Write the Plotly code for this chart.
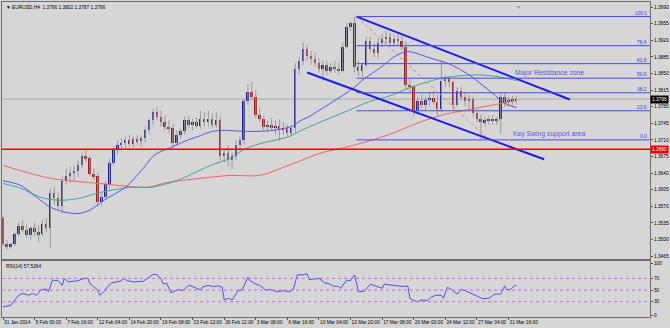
import plotly.graph_objects as go

# ---------------- data ----------------
candle_bar = list(range(0, 262, 2))  # H4 bar index of each (8h) candle

open_ = [1.3545,1.3490,1.3486,1.3490,1.3511,1.3528,1.3520,1.3509,1.3524,1.3515,
         1.3511,1.3532,1.3524,1.3597,1.3587,1.3570,1.3624,1.3633,1.3641,1.3645,
         1.3656,1.3675,1.3671,1.3637,1.3633,1.3578,1.3589,1.3616,1.3662,1.3688,
         1.3700,1.3704,1.3709,1.3702,1.3711,1.3707,1.3713,1.3730,1.3751,1.3768,
         1.3759,1.3747,1.3738,1.3734,1.3704,1.3721,1.3728,1.3751,1.3742,1.3747,
         1.3740,1.3755,1.3747,1.3753,1.3742,1.3751,1.3675,1.3683,1.3667,1.3675,
         1.3700,1.3709,1.3793,1.3810,1.3801,1.3763,1.3755,1.3738,1.3742,1.3734,
         1.3740,1.3730,1.3736,1.3725,1.3734,1.3860,1.3877,1.3902,1.3887,1.3881,
         1.3872,1.3860,1.3868,1.3856,1.3864,1.3860,1.3856,1.3906,1.3948,1.3957,
         1.3864,1.3856,1.3868,1.3919,1.3902,1.3894,1.3915,1.3923,1.3927,1.3915,
         1.3923,1.3919,1.3906,1.3826,1.3822,1.3772,1.3793,1.3784,1.3795,1.3799,
         1.3789,1.3776,1.3835,1.3839,1.3831,1.3784,1.3814,1.3801,1.3793,1.3797,
         1.3766,1.3755,1.3747,1.3751,1.3755,1.3751,1.3755,1.3801,1.3789,1.3795,
         1.3793]
high = [1.3549,1.3499,1.3494,1.3515,1.3536,1.3541,1.3532,1.3528,1.3536,1.3530,
        1.3541,1.3545,1.3608,1.3612,1.3599,1.3633,1.3650,1.3654,1.3656,1.3667,
        1.3683,1.3688,1.3677,1.3650,1.3641,1.3599,1.3624,1.3671,1.3696,1.3709,
        1.3713,1.3717,1.3721,1.3717,1.3721,1.3719,1.3738,1.3755,1.3776,1.3780,
        1.3772,1.3761,1.3751,1.3742,1.3730,1.3734,1.3759,1.3761,1.3755,1.3757,
        1.3772,1.3768,1.3772,1.3766,1.3768,1.3759,1.3692,1.3698,1.3683,1.3709,
        1.3717,1.3797,1.3828,1.3831,1.3814,1.3776,1.3761,1.3751,1.3755,1.3751,
        1.3753,1.3747,1.3742,1.3740,1.3872,1.3885,1.3915,1.3910,1.3898,1.3894,
        1.3881,1.3877,1.3877,1.3872,1.3877,1.3872,1.3915,1.3957,1.3961,1.3970,
        1.3877,1.3872,1.3927,1.3927,1.3915,1.3923,1.3934,1.3940,1.3936,1.3931,
        1.3936,1.3931,1.3919,1.3839,1.3826,1.3801,1.3805,1.3801,1.3810,1.3814,
        1.3805,1.3877,1.3847,1.3845,1.3835,1.3822,1.3822,1.3810,1.3805,1.3801,
        1.3772,1.3763,1.3759,1.3761,1.3763,1.3759,1.3810,1.3810,1.3801,1.3803,
        1.3802]
low = [1.3486,1.3478,1.3480,1.3486,1.3507,1.3515,1.3503,1.3499,1.3507,1.3494,
       1.3507,1.3515,1.3482,1.3572,1.3562,1.3555,1.3616,1.3620,1.3624,1.3633,
       1.3650,1.3662,1.3633,1.3624,1.3568,1.3570,1.3583,1.3608,1.3656,1.3679,
       1.3688,1.3692,1.3696,1.3694,1.3700,1.3696,1.3704,1.3723,1.3742,1.3751,
       1.3738,1.3730,1.3725,1.3692,1.3698,1.3713,1.3721,1.3734,1.3730,1.3734,
       1.3734,1.3738,1.3738,1.3734,1.3736,1.3667,1.3662,1.3654,1.3648,1.3667,
       1.3688,1.3700,1.3784,1.3793,1.3755,1.3747,1.3730,1.3725,1.3730,1.3721,
       1.3709,1.3721,1.3717,1.3719,1.3725,1.3847,1.3868,1.3877,1.3868,1.3864,
       1.3852,1.3835,1.3847,1.3852,1.3852,1.3847,1.3852,1.3902,1.3940,1.3852,
       1.3845,1.3843,1.3864,1.3894,1.3883,1.3881,1.3906,1.3910,1.3906,1.3906,
       1.3910,1.3898,1.3814,1.3810,1.3759,1.3763,1.3776,1.3772,1.3780,1.3784,
       1.3761,1.3768,1.3822,1.3822,1.3772,1.3780,1.3793,1.3780,1.3776,1.3759,
       1.3747,1.3710,1.3738,1.3742,1.3742,1.3742,1.3723,1.3780,1.3780,1.3784,
       1.3787]
close = [1.3490,1.3486,1.3490,1.3511,1.3528,1.3520,1.3509,1.3524,1.3515,1.3511,
         1.3532,1.3524,1.3597,1.3587,1.3570,1.3624,1.3633,1.3641,1.3645,1.3656,
         1.3675,1.3671,1.3637,1.3633,1.3578,1.3589,1.3616,1.3662,1.3688,1.3700,
         1.3704,1.3709,1.3702,1.3711,1.3707,1.3713,1.3730,1.3751,1.3768,1.3759,
         1.3747,1.3738,1.3734,1.3704,1.3721,1.3728,1.3751,1.3742,1.3747,1.3740,
         1.3755,1.3747,1.3753,1.3742,1.3751,1.3675,1.3683,1.3667,1.3675,1.3700,
         1.3709,1.3793,1.3810,1.3801,1.3763,1.3755,1.3738,1.3742,1.3734,1.3740,
         1.3730,1.3736,1.3725,1.3734,1.3860,1.3877,1.3902,1.3887,1.3881,1.3872,
         1.3860,1.3868,1.3856,1.3864,1.3860,1.3856,1.3906,1.3948,1.3957,1.3864,
         1.3856,1.3868,1.3919,1.3902,1.3894,1.3915,1.3923,1.3927,1.3915,1.3923,
         1.3919,1.3906,1.3826,1.3822,1.3772,1.3793,1.3784,1.3795,1.3799,1.3789,
         1.3776,1.3835,1.3839,1.3831,1.3784,1.3814,1.3801,1.3793,1.3797,1.3766,
         1.3755,1.3747,1.3751,1.3755,1.3751,1.3755,1.3801,1.3789,1.3795,1.3793,
         1.3796]

ma_blue_bar = [0,9,17,24,32,39,44,52,62,70,77,85,92,100,106,112,122,130,140,147,
               150,155,160,168,177,183,191,198,204,208,216,226,236,242,248,254,260]
ma_blue = [1.3624,1.3614,1.3589,1.3568,1.3557,1.3555,1.3562,1.3585,1.3610,1.3645,
           1.3679,1.3694,1.3707,1.3719,1.3728,1.3730,1.3728,1.3728,1.3732,1.3740,
           1.3749,1.3759,1.3772,1.3793,1.3818,1.3839,1.3862,1.3885,1.3896,1.3894,
           1.3883,1.3870,1.3847,1.3828,1.3808,1.3787,1.3778]
ma_teal_bar = [0,9,19,27,32,39,49,65,75,85,92,105,115,122,130,145,150,165,175,185,
               196,206,221,231,241,251,260]
ma_teal = [1.3618,1.3608,1.3589,1.3583,1.3583,1.3587,1.3599,1.3610,1.3610,1.3620,
           1.3631,1.3656,1.3671,1.3690,1.3702,1.3717,1.3728,1.3755,1.3772,1.3790,
           1.3803,1.3820,1.3839,1.3845,1.3847,1.3843,1.3835]
ma_red_bar = [0,24,49,73,83,100,115,130,147,160,177,194,211,223,241,260]
ma_red = [1.3656,1.3629,1.3618,1.3610,1.3620,1.3629,1.3635,1.3635,1.3660,1.3681,
          1.3698,1.3719,1.3747,1.3763,1.3778,1.3793]

rsi_bar = [0,4,6,8,10,13,15,17,19,22,
           23,25,28,30,31,33,38,41,43,44,
           48,49,51,53,55,60,61,63,66,71,
           74,76,78,80,81,83,85,86,89,91,
           94,96,100,101,104,106,109,111,112,114,
           116,119,121,124,125,128,130,133,135,139,
           142,145,147,149,152,154,155,160,163,165,
           167,170,171,174,176,178,180,183,186,189,
           192,193,197,201,203,205,206,208,210,212,
           215,217,219,222,223,225,227,230,232,234,
           237,241,243,246,249,252,254,255,257,259,
           260]
rsi_val = [21,24,33,41,44,41,44,41,50,52,
           47,67,66,58,70,64,66,70,70,61,
           50,41,47,56,62,66,70,66,64,65,
           72,77,76,70,61,61,45,47,51,49,
           58,56,50,55,58,56,57,55,33,36,
           33,49,50,72,66,60,58,50,51,47,
           49,47,51,76,76,78,68,70,62,61,
           57,56,53,67,66,76,47,48,60,57,
           53,60,58,57,56,57,36,32,30,33,
           32,38,41,41,36,55,51,43,51,49,
           44,38,35,36,43,43,57,51,51,58,
           57.53]
rsi_levels = [70, 50, 30]
rsi_tick_vals = [96, 70, 50, 30, 6]
rsi_tick_text = ["100", "70", "50", "30", "0"]

price_ticks = [1.3465,1.3500,1.3535,1.3570,1.3605,1.3640,1.3675,1.3710,
               1.3745,1.3780,1.3815,1.3850,1.3885,1.3920,1.3955,1.3990]
time_tick_bar = list(range(0, 257, 16))
time_tick_text = ["31 Jan 2014","5 Feb 00:00","7 Feb 16:00","12 Feb 04:00","14 Feb 20:00",
                  "19 Feb 08:00","23 Feb 12:00","26 Feb 12:00","3 Mar 08:00","6 Mar 16:00",
                  "10 Mar 04:00","12 Mar 20:00","17 Mar 08:00","20 Mar 00:00","24 Mar 12:00",
                  "27 Mar 04:00","31 Mar 16:00"]

fib_levels = [100.0, 76.4, 61.8, 50.0, 38.2, 23.6, 0.0]
fib_high = 1.3970
fib_low = 1.3710
fib_start_bar = 179
fib_low_bar = 246
channel_upper_bar = [179, 287]
channel_upper_price = [1.3970, 1.3795]
channel_lower_bar = [154, 274]
channel_lower_price = [1.3852, 1.3669]
support_level = 1.3690
bid_price = 1.3796
header_text = "\u25bc EURUSD,H4  1.3796 1.3802 1.3787 1.3796"
rsi_text = "RSI(14) 57.5264"
note_resistance = "Major Resistance zone"
note_support = "Key Swing support area"

# ---------------- figure ----------------
X_MAX = 327.6
FONT = "Liberation Sans, Arial, sans-serif"
SMALL = 4.8
fig = go.Figure()

shapes = [dict(type="line", xref="paper", x0=0, x1=1, yref="y", y0=bid_price, y1=bid_price,
               line=dict(color="#a9a9a9", width=1), layer="below")]

# wicks
wx, wy = [], []
for b, h, l in zip(candle_bar, high, low):
    wx += [b, b, None]
    wy += [l, h, None]
fig.add_trace(go.Scatter(x=wx, y=wy, mode="lines", line=dict(color="#9a9a9a", width=1),
                         xaxis="x", yaxis="y", hoverinfo="skip"))
# bodies
base = [min(o, c) for o, c in zip(open_, close)]
hgt = [max(abs(c - o), 0.00006) for o, c in zip(open_, close)]
cols = ["#22228c" if c >= o else "#9c1c1c" for o, c in zip(open_, close)]
fig.add_trace(go.Bar(x=candle_bar, y=hgt, base=base, width=1.0,
                     marker=dict(color=cols, line=dict(width=0)), xaxis="x", yaxis="y"))

# moving averages
for bx, vals, col in [(ma_red_bar, ma_red, "#f06262"),
                      (ma_teal_bar, ma_teal, "#3fa59e"),
                      (ma_blue_bar, ma_blue, "#5656ee")]:
    fig.add_trace(go.Scatter(x=bx, y=vals, mode="lines",
                             line=dict(color=col, width=1, shape="spline", smoothing=0.8),
                             xaxis="x", yaxis="y", hoverinfo="skip"))

# fibonacci diagonal + levels
fig.add_trace(go.Scatter(x=[fib_start_bar, fib_low_bar], y=[fib_high, fib_low], mode="lines",
                         line=dict(color="#f07878", width=1, dash="dot"), xaxis="x", yaxis="y"))
annotations = []
for lv in fib_levels:
    p = fib_low + (fib_high - fib_low) * lv / 100.0
    shapes.append(dict(type="line", xref="x", yref="y", x0=fib_start_bar, x1=X_MAX, y0=p, y1=p,
                       line=dict(color="#4848e8", width=1)))
    annotations.append(dict(text="%.1f" % lv, xref="paper", x=1, xanchor="right", yref="y", y=p,
                            yanchor="bottom", showarrow=False, xshift=-1, yshift=-1,
                            font=dict(size=SMALL, color="#3c3cd8", family=FONT)))

# channel lines
fig.add_trace(go.Scatter(x=channel_upper_bar, y=channel_upper_price, mode="lines",
                         line=dict(color="#1c1ce8", width=2), xaxis="x", yaxis="y"))
fig.add_trace(go.Scatter(x=channel_lower_bar, y=channel_lower_price, mode="lines",
                         line=dict(color="#1c1ce8", width=2), xaxis="x", yaxis="y"))

# support horizontal line
shapes.append(dict(type="line", xref="paper", x0=0, x1=1, yref="y", y0=support_level,
                   y1=support_level, line=dict(color="#f00000", width=1.5)))

# RSI
fig.add_trace(go.Scatter(x=rsi_bar, y=rsi_val, mode="lines", line=dict(color="#5050ee", width=1),
                         xaxis="x2", yaxis="y2", hoverinfo="skip"))
for lv in rsi_levels:
    shapes.append(dict(type="line", xref="paper", x0=0, x1=1, yref="y2", y0=lv, y1=lv,
                       line=dict(color="#b26ee0", width=1, dash="dot")))

annotations.append(dict(text="%.4f" % bid_price, xref="paper", x=1, xanchor="left", yref="y",
                        y=bid_price, showarrow=False, bgcolor="#000000", borderpad=1,
                        font=dict(size=SMALL, color="#ffffff", family=FONT)))
annotations.append(dict(text="%.4f" % support_level, xref="paper", x=1, xanchor="left", yref="y",
                        y=support_level, showarrow=False, bgcolor="#f00000", borderpad=1,
                        font=dict(size=SMALL, color="#ffffff", family=FONT)))
annotations.append(dict(text=header_text, xref="paper", x=0, xanchor="left", xshift=2,
                        yref="paper", y=1, yanchor="top", yshift=-1, showarrow=False,
                        font=dict(size=SMALL, color="#000000", family=FONT)))
annotations.append(dict(text=rsi_text, xref="paper", x=0, xanchor="left", xshift=2,
                        yref="y2 domain", y=1, yanchor="top", yshift=-1, showarrow=False,
                        font=dict(size=SMALL, color="#000000", family=FONT)))
annotations.append(dict(text=note_resistance, xref="x", x=276.5, yref="y", y=1.3852,
                        showarrow=False, font=dict(size=6.8, color="#5858e0", family=FONT)))
annotations.append(dict(text=note_support, xref="x", x=276.5, yref="y", y=1.3723,
                        showarrow=False, font=dict(size=6.8, color="#5858e0", family=FONT)))
annotations.append(dict(text="\u25bc", xref="x", x=261, yref="paper", y=1, yanchor="top",
                        showarrow=False, font=dict(size=5, color="#8a8a9a")))

axis_common = dict(showgrid=False, zeroline=False, showline=True, mirror=True,
                   linecolor="#6e6e6e", linewidth=1, tickcolor="#555555",
                   tickfont=dict(size=SMALL, color="#000000", family=FONT))

fig.update_layout(
    width=670, height=328,
    margin=dict(l=1, r=18, t=1, b=11),
    paper_bgcolor="#d6d6d6", plot_bgcolor="#d6d6d6",
    showlegend=False, hovermode=False, bargap=0,
    font=dict(family=FONT),
    xaxis=dict(domain=[0, 1], range=[-0.504, X_MAX], anchor="y", showticklabels=False,
               ticks="", **axis_common),
    xaxis2=dict(domain=[0, 1], range=[-0.504, X_MAX], anchor="y2", matches="x",
                tickmode="array", tickvals=time_tick_bar, ticktext=time_tick_text,
                tickangle=0, ticks="outside", ticklen=2, ticklabelposition="outside right",
                **axis_common),
    yaxis=dict(domain=[0.18354, 1], range=[1.34584, 1.40007], anchor="x", side="right",
               tickmode="array", tickvals=price_ticks,
               ticktext=["%.4f" % v for v in price_ticks], ticks="outside", ticklen=2,
               **axis_common),
    yaxis2=dict(domain=[0, 0.17722], range=[3.8, 99.5], anchor="x2", side="right",
                tickmode="array", tickvals=rsi_tick_vals, ticktext=rsi_tick_text,
                ticks="outside", ticklen=2, **axis_common),
    shapes=shapes,
    annotations=annotations,
)

fig.write_html("out.html", config={"displayModeBar": False})
